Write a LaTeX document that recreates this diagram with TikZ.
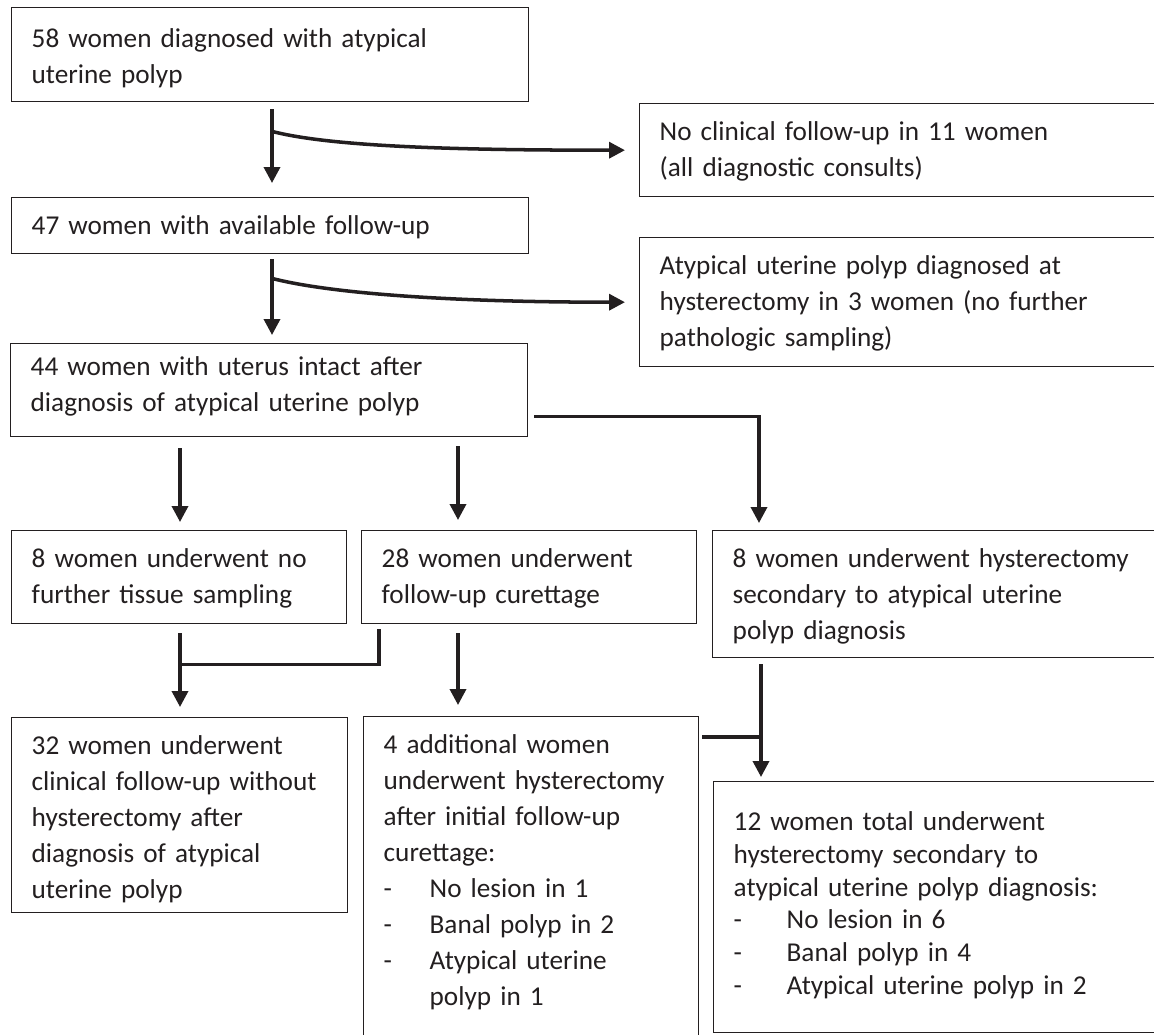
\documentclass[tikz,border=0pt]{standalone}
\usepackage{fontspec}
\setmainfont{Carlito}
\usepackage{tikz}
\usetikzlibrary{arrows.meta}
\usetikzlibrary{calc}
\definecolor{ink}{HTML}{231F20}
\newcommand{\dashitem}[2][0.92cm]{\makebox[#1][l]{-}#2}
\tikzset{
box/.style args = {#1/#2}{ draw = ink, line width = 0.8pt, anchor = north west, align = left, inner xsep = 0.4cm, inner ysep = 0pt, text height = 0.74cm, text width = #1, text depth = #2, text = ink, font = \fontsize{15.5pt}{20.5pt}\selectfont },
flow/.style = { draw = ink, line width = 2pt, -{Triangle[width = 0.32cm, length = 0.32cm]} },
link/.style = { draw = ink, line width = 2pt },
}

\begin{document}
\begin{tikzpicture}[x = 0.02cm, y = -0.02cm]
    \useasboundingbox (0, 0) rectangle (1154, 1035);
    \node[box = {9.54cm/1.08cm}, text height = 0.8cm] (a) at (11, 7) {58 women diagnosed with atypical\\uterine polyp};
    \node[box = {9.92cm/1.12cm}] (b) at (639, 103) {No clinical follow-up in 11 women\\(all diagnostic consults)};
    \node[box = {9.54cm/0.38cm}] (c) at (11, 197) {47 women with available follow-up};
    \node[box = {9.92cm/1.84cm}] (d) at (639, 237) {Atypical uterine polyp diagnosed at\\hysterectomy in 3 women (no further\\pathologic sampling)};
    \node[box = {9.54cm/1.22cm}, text height = 0.64cm] (e) at (10, 343) {44 women with uterus intact after\\diagnosis of atypical uterine polyp};
    \node[box = {5.9cm/1.12cm}] (f) at (11, 530) {8 women underwent no\\further tissue sampling};
    \node[box = {5.9cm/1.12cm}] (g) at (361, 530) {28 women underwent\\follow-up curettage};
    \node[box = {8.46cm/1.8cm}] (h) at (712, 530) {8 women underwent hysterectomy\\secondary to atypical uterine\\polyp diagnosis};
    \node[box = {5.92cm/3.16cm}] (i) at (11, 717) {32 women underwent\\clinical follow-up without\\hysterectomy after\\diagnosis of atypical\\uterine polyp};
    \node[box = {5.9cm/5.86cm}] (j) at (363, 716) {4 additional women\\underwent hysterectomy\\after initial follow-up\\curettage:\\\dashitem{No lesion in 1}\\\dashitem{Banal polyp in 2}\\\dashitem{Atypical uterine}\\\hspace*{0.92cm}polyp in 1};
    \node[box = {8.46cm/4.04cm}, text height = 0.98cm, font = \fontsize{15.5pt}{18.6pt}\selectfont] (k) at (713, 781) {12 women total underwent\\hysterectomy secondary to\\atypical uterine polyp diagnosis:\\\dashitem[1.06cm]{No lesion in 6}\\\dashitem[1.06cm]{Banal polyp in 4}\\\dashitem[1.06cm]{Atypical uterine polyp in 2}};
    \coordinate (hk) at ($(h.south west) + (49, 6)$);
    \coordinate (jh) at ($(j.north east) + (3, 21)$);
    \draw[flow] ($(a.south west) + (261, 7)$) -- ($(c.north west) + (261, -14)$);
    \draw[flow] ($(a.south west) + (261, 29)$) .. controls +(58, 15) and +(-175, 0) .. ($(b.west) + (-14, 0)$);
    \draw[flow] ($(c.south west) + (261, 5)$) -- ($(e.north west) + (262, -8)$);
    \draw[flow] ($(c.south west) + (261, 24)$) .. controls +(58, 15) and +(-175, 0) .. ($(d.west) + (-14, 0)$);
    \draw[flow] ($(e.south west) + (170, 11)$) -- ($(f.north west) + (169, -8)$);
    \draw[flow] ($(e.south west) + (448, 9)$) -- ($(g.north west) + (97, -10)$);
    \draw[flow] ($(e.south east) + (6, -21)$) -| ($(h.north west) + (47, -7)$);
    \draw[link] ($(g.south west) + (18, 5)$) |- ($(f.south west) + (169, 40)$);
    \draw[flow] ($(f.south west) + (169, 9)$) -- ($(i.north west) + (169, -10)$);
    \draw[flow] ($(g.south west) + (97, 9)$) -- ($(j.north west) + (95, -11)$);
    \draw[link] (jh) -- (jh -| hk);
    \draw[flow] (hk) -- ($(k.north west) + (48, -4)$);
\end{tikzpicture}
\end{document}
